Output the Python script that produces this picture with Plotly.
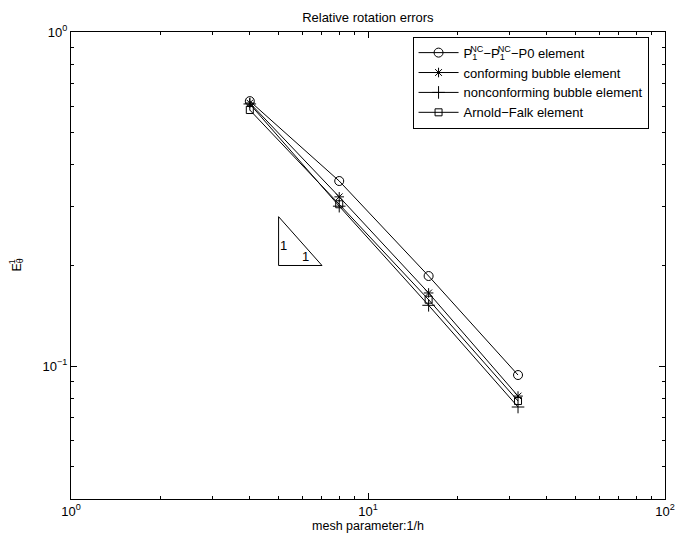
import plotly.graph_objects as go

# mesh refinement levels (1/h)
mesh = [4, 8, 16, 32]

# relative rotation errors for each element
err_p1nc = [0.621, 0.358, 0.186, 0.094]
err_conf_bubble = [0.613, 0.321, 0.1655, 0.0813]
err_nonconf_bubble = [0.609, 0.301, 0.152, 0.0754]
err_arnold_falk = [0.584, 0.305, 0.158, 0.0786]

# slope-one reference triangle
tri_x = [5, 5, 7, 5]
tri_y = [0.28, 0.2, 0.2, 0.28]

# decade tick labels
x_tickvals = [1, 10, 100]
x_ticktext = ["10<sup>0</sup>", "10<sup>1</sup>", "10<sup>2</sup>"]
y_tickvals = [0.1, 1]
y_ticktext = ["10<sup>\u22121</sup>", "10<sup>0</sup>"]

# minor ticks at 2..9 within each decade
x_minor = [m * d for d in (1, 10) for m in range(2, 10)]
y_minor = [m * d for d in (0.01, 0.1) for m in range(2, 10) if 0.04 <= m * d < 1]

FONT = "Liberation Sans, Arial, Helvetica, sans-serif"
BLACK = "#000000"

series = [
    ("P<sub><span style='letter-spacing:-7px'>1</span></sub><sup>NC</sup>"
     "\u2212P<sub><span style='letter-spacing:-7px'>1</span></sub><sup>NC</sup>\u2212P0 element",
     err_p1nc, "circle-open", 9),
    ("conforming bubble element", err_conf_bubble, "asterisk-open", 8),
    ("nonconforming bubble element", err_nonconf_bubble, "cross-thin-open", 9),
    ("Arnold\u2212Falk element", err_arnold_falk, "square-open", 7),
]

fig = go.Figure()
for name, vals, sym, size in series:
    fig.add_trace(go.Scatter(
        x=mesh, y=vals, name=name, mode="lines+markers",
        line=dict(color=BLACK, width=1),
        marker=dict(symbol=sym, size=size, color=BLACK,
                    line=dict(color=BLACK, width=1)),
    ))

fig.add_trace(go.Scatter(
    x=tri_x, y=tri_y, mode="lines", showlegend=False, hoverinfo="skip",
    line=dict(color=BLACK, width=1),
))

fig.add_annotation(x=0.714, y=-0.638, xref="x", yref="y", text="1",
                   showarrow=False, font=dict(size=13, color=BLACK, family=FONT))
fig.add_annotation(x=0.79, y=-0.672, xref="x", yref="y", text="1",
                   showarrow=False, font=dict(size=13, color=BLACK, family=FONT))

axis_common = dict(
    type="log", showgrid=False, zeroline=False, automargin=False,
    showline=True, linecolor=BLACK, linewidth=1, mirror="allticks",
    ticks="inside", ticklen=6, tickcolor=BLACK, tickwidth=1,
    tickmode="array",
    tickfont=dict(size=13, color=BLACK, family=FONT),
)

fig.update_xaxes(**axis_common, range=[0, 2],
                 tickvals=x_tickvals, ticktext=x_ticktext,
                 minor=dict(ticks="inside", ticklen=3, tickcolor=BLACK,
                            showgrid=False, tickmode="array", tickvals=x_minor),
                 title=dict(text="mesh parameter:1/h", standoff=2,
                            font=dict(size=12.5, color=BLACK, family=FONT)))
fig.update_yaxes(**axis_common, range=[-1.398, 0],
                 tickvals=y_tickvals, ticktext=y_ticktext,
                 minor=dict(ticks="inside", ticklen=3, tickcolor=BLACK,
                            showgrid=False, tickmode="array", tickvals=y_minor),
                 title=dict(text="E<sub><span style='letter-spacing:-6px'>\u03b8</span></sub><sup>1</sup>",
                            standoff=18,
                            font=dict(size=12.5, color=BLACK, family=FONT)))

fig.update_layout(
    width=675, height=542,
    margin=dict(l=71, r=10, t=32, b=43),
    paper_bgcolor="white", plot_bgcolor="white",
    title=dict(text="Relative rotation errors", x=0.545, xanchor="center",
               y=0.967, yanchor="middle",
               font=dict(size=13, color=BLACK, family=FONT)),
    font=dict(family=FONT, color=BLACK, size=12.5),
    legend=dict(x=0.575, y=0.99, xanchor="left", yanchor="top",
                bgcolor="white", bordercolor=BLACK, borderwidth=1,
                font=dict(size=13, color=BLACK, family=FONT),
                itemwidth=40, tracegroupgap=0),
    showlegend=True,
)

fig.write_html("out.html")
